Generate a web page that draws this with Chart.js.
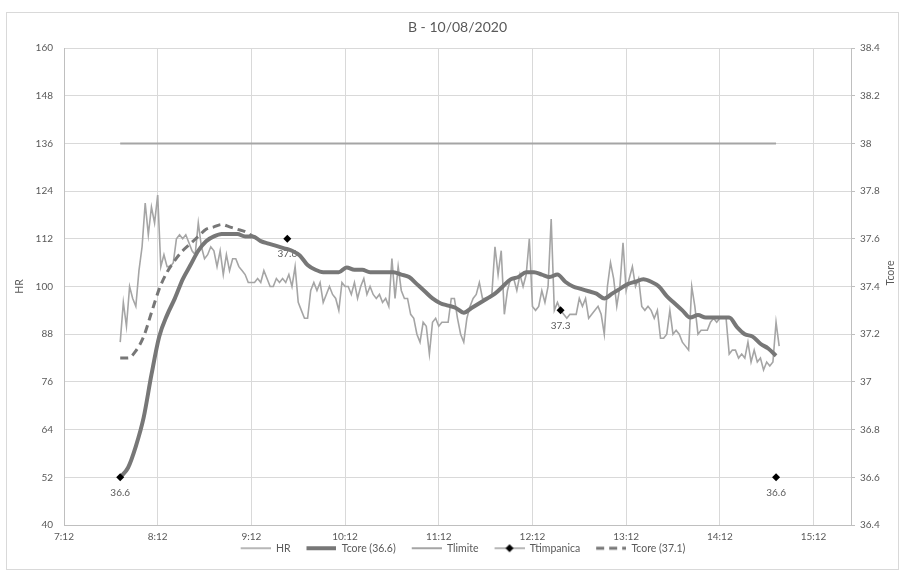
<!DOCTYPE html>
<html>
<head>
<meta charset="utf-8">
<script src="https://cdn.jsdelivr.net/npm/chart.js@4.4.1/dist/chart.umd.min.js"></script>
<style>
  html, body { margin: 0; padding: 0; background: #ffffff; }
  #wrap { position: relative; width: 904px; height: 574px; }
  #frame { position: absolute; left: 6px; top: 12px; width: 891px; height: 556px; border: 1px solid #d9d9d9; pointer-events: none; }
  canvas { display: block; }
</style>
</head>
<body>
<div id="wrap">
  <canvas id="c" width="904" height="574"></canvas>
  <div id="frame"></div>
</div>
<script>
// ---- Session B, 10/08/2020 ----
const chartTitle = 'B - 10/08/2020';

// x axis (time of day)
const xMin = '7:12';
const xMax = '15:36';
const xTickLabels = ['7:12', '8:12', '9:12', '10:12', '11:12', '12:12', '13:12', '14:12', '15:12'];

// heart rate, one reading every 2 minutes from 7:48
const hrStart = '7:48';
const hrStepMin = 2;
const hrValues = [
  86, 96, 90, 100, 97, 95, 104, 110, 121, 113,
  120, 116, 123, 105, 108, 105, 105, 106, 112, 113,
  112, 113, 111, 109, 108, 116, 110, 107, 108, 110,
  109, 105, 109, 103, 108, 104, 107, 107, 105, 104,
  103, 101, 101, 101, 102, 101, 104, 102, 100, 100,
  102, 101, 102, 101, 103, 100, 105, 96, 94, 92,
  92, 99, 101, 99, 101, 96, 98, 100, 98, 97,
  94, 101, 100, 100, 98, 101, 97, 100, 102, 98,
  100, 98, 97, 98, 96, 97, 95, 107, 97, 105,
  99, 97, 97, 93, 92, 88, 86, 91, 90, 83,
  91, 92, 90, 91, 91, 91, 97, 97, 92, 88,
  86, 92, 95, 97, 98, 101, 97, 97, 97, 98,
  110, 103, 109, 93, 99, 102, 102, 99, 103, 100,
  103, 112, 95, 94, 95, 99, 96, 100, 117, 94,
  96, 94, 93, 92, 93, 93, 93, 97, 95, 97,
  92, 93, 94, 95, 93, 88, 100, 106, 102, 95,
  100, 111, 99, 102, 105, 100, 102, 95, 94, 95,
  94, 92, 94, 87, 87, 88, 94, 88, 89, 88,
  86, 85, 84, 100, 95, 88, 89, 89, 89, 91,
  92, 91, 92, 92, 92, 83, 84, 84, 82, 83,
  82, 86, 81, 84, 81, 82, 79, 81, 80, 81,
  91, 85
];

// estimated core temperature starting from 36.6, every 5 minutes from 7:48
const tcoreStart = '7:48';
const tcoreStepMin = 5;
const tcore366 = [
  36.60, 36.64, 36.73, 36.85, 37.03, 37.19, 37.28, 37.35, 37.43, 37.49,
  37.55, 37.59, 37.61, 37.62, 37.62, 37.62, 37.61, 37.61, 37.59, 37.58,
  37.57, 37.56, 37.55, 37.53, 37.49, 37.47, 37.46, 37.46, 37.46, 37.48,
  37.47, 37.47, 37.46, 37.46, 37.46, 37.46, 37.45, 37.44, 37.41, 37.38,
  37.35, 37.33, 37.32, 37.31, 37.29, 37.31, 37.33, 37.35, 37.37, 37.40,
  37.43, 37.44, 37.46, 37.46, 37.45, 37.44, 37.45, 37.42, 37.40, 37.39,
  37.38, 37.37, 37.35, 37.37, 37.39, 37.41, 37.42, 37.43, 37.42, 37.40,
  37.36, 37.33, 37.30, 37.27, 37.28, 37.27, 37.27, 37.27, 37.27, 37.23,
  37.20, 37.19, 37.16, 37.14, 37.11
];

// estimated core temperature starting from 37.1, same cadence
const tcore371 = [
  37.10, 37.10, 37.13, 37.19, 37.29, 37.39, 37.46, 37.51, 37.55, 37.58,
  37.61, 37.64, 37.65, 37.66, 37.65, 37.64, 37.63, 37.61, 37.59
];

// threshold temperature
const tlimiteTimes = ['7:48', '14:48'];
const tlimiteValues = [38.0, 38.0];

// tympanic readings
const ttimpTimes = ['7:48', '9:35', '12:30', '14:48'];
const ttimpValues = [36.6, 37.6, 37.3, 36.6];

// axis ranges
const hrRange = { min: 40, max: 160, step: 12 };
const tRange = { min: 36.4, max: 38.4, step: 0.2 };

// ---- helpers ----
const toHours = s => { const [h, m] = s.split(':').map(Number); return h + m / 60; };
const series = (start, stepMin, vals) => vals.map((v, i) => ({ x: toHours(start) + i * stepMin / 60, y: v }));
const pairs = (times, vals) => times.map((t, i) => ({ x: toHours(t), y: vals[i] }));

const COL = {
  text: '#595959',
  grid: '#d9d9d9',
  axis: '#bfbfbf',
  hr: '#a5a5a5',
  tcore: '#777777',
  tlim: '#a5a5a5',
  marker: '#000000'
};
const FONT = 'Lato, "Liberation Sans", Arial, sans-serif';
Chart.defaults.font.family = FONT;
Chart.defaults.color = COL.text;

// legend glyphs: 16px of clear space on the left acts as the gap between entries
const GAP = 16, SAMPLE = 30;
function glyph(draw) {
  const c = document.createElement('canvas');
  c.width = GAP + SAMPLE; c.height = 10;
  const g = c.getContext('2d');
  g.translate(GAP, 0);
  draw(g);
  return c;
}
function hline(g, color, w, dash) {
  g.strokeStyle = color; g.lineWidth = w; g.setLineDash(dash || []);
  g.beginPath(); g.moveTo(0, 5); g.lineTo(SAMPLE, 5); g.stroke();
}
const legendGlyphs = [
  glyph(g => hline(g, COL.hr, 1.6)),
  glyph(g => hline(g, COL.tcore, 4)),
  glyph(g => hline(g, COL.tlim, 2)),
  glyph(g => {
    hline(g, COL.hr, 1.6);
    g.fillStyle = COL.marker;
    g.beginPath(); g.moveTo(15, 1); g.lineTo(19, 5); g.lineTo(15, 9); g.lineTo(11, 5); g.closePath(); g.fill();
  }),
  glyph(g => hline(g, COL.tcore, 3, [8, 5]))
];

// value labels under the tympanic markers, and the title / axis titles
const textPlugin = {
  id: 'texts',
  beforeDatasetsDraw(chart) {
    const meta = chart.getDatasetMeta(3);
    const ctx = chart.ctx;
    ctx.save();
    ctx.font = '10px ' + FONT;
    ctx.fillStyle = COL.text;
    ctx.textAlign = 'center';
    ctx.textBaseline = 'middle';
    meta.data.forEach((pt, i) => {
      ctx.fillText(ttimpValues[i].toFixed(1), pt.x, pt.y + 15);
    });
    ctx.restore();
  },
  afterDraw(chart) {
    const ctx = chart.ctx;
    const area = chart.chartArea;
    ctx.save();
    ctx.fillStyle = COL.text;
    ctx.textAlign = 'center';
    ctx.textBaseline = 'middle';
    ctx.font = '14px ' + FONT;
    ctx.fillText(chartTitle, (area.left + area.right) / 2, 27);
    ctx.font = '10.5px ' + FONT;
    ctx.translate(20, (area.top + area.bottom) / 2);
    ctx.rotate(-Math.PI / 2);
    ctx.fillText('HR', 0, 0);
    ctx.restore();
    ctx.save();
    ctx.fillStyle = COL.text;
    ctx.textAlign = 'center';
    ctx.textBaseline = 'middle';
    ctx.font = '10.5px ' + FONT;
    ctx.translate(891, 273);
    ctx.rotate(-Math.PI / 2);
    ctx.fillText('Tcore', 0, 0);
    ctx.restore();
  }
};

new Chart(document.getElementById('c'), {
  type: 'line',
  data: {
    datasets: [
      {
        label: 'HR',
        data: series(hrStart, hrStepMin, hrValues),
        yAxisID: 'y',
        borderColor: COL.hr,
        borderWidth: 1.6,
        pointRadius: 0,
        tension: 0,
        order: 5
      },
      {
        label: 'Tcore (36.6)',
        data: series(tcoreStart, tcoreStepMin, tcore366),
        yAxisID: 'y2',
        borderColor: COL.tcore,
        borderWidth: 4,
        pointRadius: 0,
        cubicInterpolationMode: 'monotone',
        order: 3
      },
      {
        label: 'Tlimite',
        data: pairs(tlimiteTimes, tlimiteValues),
        yAxisID: 'y2',
        borderColor: COL.tlim,
        borderWidth: 2,
        pointRadius: 0,
        order: 4
      },
      {
        label: 'Ttimpanica',
        data: pairs(ttimpTimes, ttimpValues),
        yAxisID: 'y2',
        showLine: false,
        pointStyle: 'rectRot',
        pointRadius: 4,
        pointBackgroundColor: COL.marker,
        pointBorderColor: COL.marker,
        pointBorderWidth: 0,
        order: 1
      },
      {
        label: 'Tcore (37.1)',
        data: series(tcoreStart, tcoreStepMin, tcore371),
        yAxisID: 'y2',
        borderColor: COL.tcore,
        borderWidth: 3,
        borderDash: [8, 5],
        pointRadius: 0,
        cubicInterpolationMode: 'monotone',
        order: 2
      }
    ]
  },
  options: {
    responsive: false,
    animation: false,
    devicePixelRatio: 1,
    layout: { padding: { top: 48, left: 6, right: 0, bottom: 10.5 } },
    plugins: {
      title: { display: false },
      tooltip: { enabled: false },
      legend: {
        display: true,
        position: 'bottom',
        labels: {
          usePointStyle: true,
          pointStyleWidth: GAP + SAMPLE,
          padding: 0,
          color: COL.text,
          font: { size: 10.5, family: FONT },
          generateLabels: chart => chart.data.datasets.map((ds, i) => ({
            text: ds.label,
            pointStyle: legendGlyphs[i],
            fillStyle: 'rgba(0,0,0,0)',
            strokeStyle: 'rgba(0,0,0,0)',
            lineWidth: 0,
            hidden: false,
            datasetIndex: i,
            fontColor: COL.text
          }))
        }
      }
    },
    scales: {
      x: {
        type: 'linear',
        min: toHours(xMin),
        max: toHours(xMax),
        afterFit: s => { s.height = 18; },
        afterBuildTicks: s => { s.ticks = xTickLabels.map(t => ({ value: toHours(t) })); },
        grid: { color: COL.grid, lineWidth: 1, drawTicks: false },
        border: { display: true, color: COL.axis },
        ticks: {
          autoSkip: false,
          maxRotation: 0,
          padding: 6,
          color: COL.text,
          font: { size: 10 },
          callback: (v, i) => xTickLabels[i]
        }
      },
      y: {
        position: 'left',
        min: hrRange.min,
        max: hrRange.max,
        afterFit: s => { s.width = 58; },
        grid: { color: COL.grid, lineWidth: 1, drawTicks: false },
        border: { display: true, color: COL.axis },
        ticks: { stepSize: hrRange.step, padding: 11, color: COL.text, font: { size: 10 } }
      },
      y2: {
        position: 'right',
        min: tRange.min,
        max: tRange.max,
        afterFit: s => { s.width = 53; },
        grid: { drawOnChartArea: false, drawTicks: true, tickLength: 4, color: COL.axis },
        border: { display: true, color: COL.axis },
        ticks: {
          stepSize: tRange.step,
          padding: 5,
          color: COL.text,
          font: { size: 10 },
          callback: v => String(Number(v.toFixed(1)))
        }
      }
    }
  },
  plugins: [textPlugin]
});
</script>
</body>
</html>
